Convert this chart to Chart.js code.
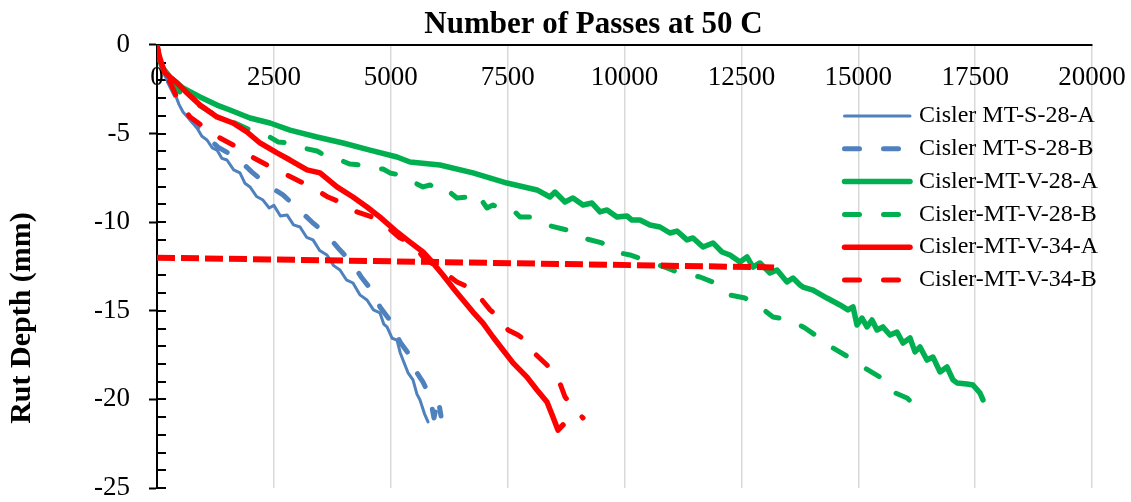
<!DOCTYPE html>
<html>
<head>
<meta charset="utf-8">
<script src="https://cdn.jsdelivr.net/npm/chart.js@4.4.1/dist/chart.umd.min.js"></script>
<style>
html,body{margin:0;padding:0;background:#fff;}
#wrap{width:1131px;height:502px;position:relative;}
</style>
</head>
<body>
<div id="wrap"><canvas id="c"></canvas></div>
<script>
// ---------- DATA ----------
const chartTitle = 'Number of Passes at 50 C';
const yAxisTitle = 'Rut Depth (mm)';
const seriesNames = ['Cisler MT-S-28-A','Cisler MT-S-28-B','Cisler-MT-V-28-A','Cisler-MT-V-28-B','Cisler-MT-V-34-A','Cisler-MT-V-34-B'];
const xTickLabels = [0,2500,5000,7500,10000,12500,15000,17500,20000];
const yTickLabels = [0,-5,-10,-15,-20,-25];

const passesS28A = [0,43,107,171,300,385,470,556,700,856,960,1070,1180,1283,1390,1497,1640,1775,1880,1989,2130,2267,2400,2500,2640,2781,2920,3059,3200,3337,3480,3636,3780,3914,4050,4192,4340,4492,4630,4770,4850,4920,5030,5134,5200,5262,5370,5476,5560,5626,5720,5797];
const rutS28A    = [0,-0.56,-1.13,-1.75,-2.40,-2.75,-3.35,-3.78,-4.20,-4.68,-5.15,-5.36,-5.80,-5.93,-6.40,-6.49,-7.05,-7.22,-7.80,-8.01,-8.55,-8.75,-9.20,-9.05,-9.65,-9.59,-10.15,-10.27,-10.85,-11.00,-11.60,-11.85,-12.45,-12.70,-13.25,-13.43,-14.10,-14.39,-14.95,-15.12,-15.75,-15.91,-16.55,-16.65,-17.35,-17.78,-18.50,-18.90,-19.70,-20.03,-20.80,-21.27];

const passesS28B = [0,43,171,385,706,1027,1305,1711,2032,2353,2695,2995,3315,3636,3914,4171,4385,4620,4770,5027,5198,5369,5519,5690,5840,5925,6011,6075];
const rutS28B    = [0,-0.73,-1.69,-2.82,-4.12,-5.08,-5.76,-6.38,-7.17,-7.90,-8.46,-9.20,-9.99,-10.72,-11.57,-12.30,-13.15,-13.94,-14.78,-15.69,-16.76,-17.38,-18.34,-19.02,-19.86,-21.05,-19.92,-20.94];

const passesV28A = [0,43,107,278,556,920,1283,1561,1989,2417,2845,3422,3979,4556,5134,5412,6053,6759,7487,8128,8406,8513,8727,8898,9112,9305,9476,9626,9839,10053,10160,10331,10545,10759,10973,11123,11337,11465,11679,11893,12085,12256,12470,12620,12748,12898,13112,13262,13476,13604,13754,13818,14032,14331,14609,14780,14888,14973,15080,15187,15294,15401,15529,15679,15829,15957,16107,16214,16321,16470,16599,16748,16898,17026,17112,17326,17454,17604,17668];
const rutV28A    = [0,-0.73,-1.24,-1.81,-2.43,-2.93,-3.39,-3.67,-4.12,-4.40,-4.80,-5.19,-5.53,-5.93,-6.32,-6.60,-6.77,-7.22,-7.79,-8.18,-8.58,-8.30,-8.86,-8.63,-9.03,-8.92,-9.42,-9.31,-9.71,-9.65,-9.88,-9.88,-10.16,-10.27,-10.61,-10.50,-11.00,-10.89,-11.40,-11.17,-11.68,-11.85,-12.25,-11.96,-12.53,-12.30,-12.87,-12.70,-13.37,-13.15,-13.54,-13.66,-13.83,-14.28,-14.67,-14.95,-14.78,-15.80,-15.41,-15.91,-15.52,-16.08,-15.91,-16.37,-16.20,-16.82,-16.53,-17.32,-17.04,-17.78,-17.61,-18.45,-18.17,-18.90,-19.07,-19.13,-19.19,-19.64,-20.03];

const passesV28B = [0,43,128,385,706,1070,1348,1668,1989,2374,2588,2845,3123,3422,3636,3914,4128,4342,4556,4834,4984,5198,5348,5476,5690,5840,6096,6203,6417,6631,6845,6909,7059,7187,7401,7615,7765,8021,8342,8770,9112,9518,9796,10117,10438,10909,11187,11615,11936,12256,12577,12898,13176,13540,13861,14139,14460,14823,15101,15465,15744,16043,16214];
const rutV28B    = [0,-0.73,-1.52,-2.43,-3.10,-3.67,-4.12,-4.40,-4.80,-5.14,-5.47,-5.53,-5.81,-5.98,-6.32,-6.49,-6.72,-6.77,-6.94,-7.00,-7.22,-7.34,-7.62,-7.73,-8.01,-7.90,-8.30,-8.18,-8.63,-8.58,-8.86,-8.63,-9.20,-9.03,-9.31,-9.31,-9.71,-9.71,-10.16,-10.44,-10.89,-11.17,-11.68,-11.85,-12.13,-12.58,-12.87,-13.09,-13.43,-14.11,-14.28,-14.78,-15.35,-15.52,-15.97,-16.48,-17.10,-17.66,-18.17,-18.74,-19.58,-19.92,-20.32];

const passesV34A = [0,43,107,171,428,642,920,1283,1626,1925,2203,2567,2845,3209,3487,3850,4192,4492,4770,5134,5412,5690,5904,6117,6331,6545,6759,6973,7187,7401,7615,7914,8128,8342,8470,8577,8684];
const rutV34A    = [0,-0.56,-1.13,-1.58,-2.14,-2.71,-3.39,-4.06,-4.40,-4.91,-5.53,-6.09,-6.49,-7.05,-7.22,-8.01,-8.58,-9.14,-9.71,-10.55,-11.12,-11.68,-12.30,-12.98,-13.71,-14.39,-15.07,-15.69,-16.48,-17.21,-17.94,-18.74,-19.47,-20.15,-20.99,-21.73,-21.44];

const passesV34B = [0,43,128,278,449,706,1027,1348,1711,2032,2353,2695,2995,3337,3658,4064,4278,4599,4920,5198,5455,5690,5990,6417,6695,6952,7123,7337,7508,7722,7872,8043,8342,8577,8727,8898,9112];
const rutV34B    = [0,-0.73,-1.58,-2.09,-3.10,-4.06,-4.68,-5.25,-5.76,-6.32,-6.77,-7.22,-7.62,-8.07,-8.58,-9.03,-9.42,-9.71,-10.27,-10.89,-11.17,-11.96,-12.53,-13.37,-13.71,-14.39,-14.95,-15.41,-16.08,-16.37,-16.65,-17.32,-18.06,-18.79,-19.86,-20.43,-21.05];

const thresholdPasses = [0,13200];
const thresholdRut    = [-12.0,-12.55];

// ---------- STYLE ----------
const SERIF = '"Liberation Serif", "Times New Roman", serif';
const BLUE = '#4F81BD', GREEN = '#00B050', RED = '#FF0000';
const DASH = [15, 24];

function pts(xs, ys){ return xs.map((x, i) => ({x: x, y: ys[i]})); }

function series(label, xs, ys, color, width, dash, order){
  return {
    label: label, data: pts(xs, ys), borderColor: color, backgroundColor: color,
    borderWidth: width, borderDash: dash, borderCapStyle: 'round', borderJoinStyle: 'round',
    showLine: true, pointRadius: 0, pointHoverRadius: 0, tension: 0, order: order
  };
}

const innerTicks = {
  id: 'innerTicks',
  beforeDatasetsDraw(chart){
    const ys = chart.scales.y, ctx = chart.ctx, x0 = chart.chartArea.left;
    ctx.save();
    ctx.strokeStyle = '#000'; ctx.lineWidth = 2;
    ys.ticks.forEach(t => {
      const py = Math.round(ys.getPixelForValue(t.value));
      ctx.beginPath(); ctx.moveTo(x0, py); ctx.lineTo(x0 + 9, py); ctx.stroke();
    });
    ctx.restore();
  }
};

const yTitlePlugin = {
  id: 'yTitlePlugin',
  afterDraw(chart){
    const ctx = chart.ctx;
    ctx.save();
    ctx.translate(22, 318);
    ctx.rotate(-Math.PI / 2);
    ctx.font = 'bold 30px ' + SERIF;
    ctx.fillStyle = '#000';
    ctx.textAlign = 'center';
    ctx.textBaseline = 'middle';
    ctx.fillText(yAxisTitle, 0, 0);
    ctx.restore();
  }
};

const sideLegend = {
  id: 'sideLegend',
  afterDraw(chart){
    const ctx = chart.ctx;
    ctx.save();
    let row = 0;
    chart.data.datasets.forEach(ds => {
      if (!ds.label) return;
      const y = 116 + row * 32.8;
      ctx.beginPath();
      ctx.strokeStyle = ds.borderColor;
      ctx.lineWidth = ds.borderWidth;
      ctx.setLineDash(ds.borderDash || []);
      ctx.lineCap = 'round';
      ctx.moveTo(844.5, y); ctx.lineTo(910, y); ctx.stroke();
      ctx.setLineDash([]);
      ctx.fillStyle = '#000';
      ctx.font = '24px ' + SERIF;
      ctx.textAlign = 'left';
      ctx.textBaseline = 'middle';
      ctx.fillText(ds.label, 919, y);
      row++;
    });
    ctx.restore();
  }
};

new Chart(document.getElementById('c'), {
  type: 'scatter',
  data: {
    datasets: [
      series(seriesNames[0], passesS28A, rutS28A, BLUE, 3, [], 7),
      series(seriesNames[1], passesS28B, rutS28B, BLUE, 5, DASH, 6),
      series(seriesNames[2], passesV28A, rutV28A, GREEN, 5.5, [], 5),
      series(seriesNames[3], passesV28B, rutV28B, GREEN, 5, DASH, 4),
      series(seriesNames[4], passesV34A, rutV34A, RED, 5.5, [], 3),
      series(seriesNames[5], passesV34B, rutV34B, RED, 5, DASH, 2),
      Object.assign(series('', thresholdPasses, thresholdRut, RED, 6, [18, 6], 1), {borderCapStyle: 'butt'})
    ]
  },
  options: {
    responsive: true,
    maintainAspectRatio: false,
    animation: false,
    devicePixelRatio: 1,
    layout: {autoPadding: false, padding: {left: 95, right: 39, top: 0, bottom: 14}},
    plugins: {
      legend: {display: false},
      tooltip: {enabled: false},
      title: {
        display: true, text: chartTitle, color: '#000',
        font: {family: SERIF, size: 31, weight: 'bold'},
        padding: {top: 6, bottom: 1.8}
      }
    },
    scales: {
      x: {
        type: 'linear', position: {y: 0}, min: 0, max: 20000,
        afterBuildTicks: s => { s.ticks = xTickLabels.map(v => ({value: v})); },
        afterFit: s => { s.paddingLeft = 0; s.paddingRight = 0; s.paddingTop = 0; s.paddingBottom = 0; },
        ticks: {font: {family: SERIF, size: 27}, color: '#000', padding: 17, maxRotation: 0, autoSkip: false,
                callback: v => String(v)},
        grid: {color: '#D9D9D9', lineWidth: 1.5, drawTicks: false},
        border: {display: true, color: '#000', width: 2}
      },
      y: {
        type: 'linear', position: 'left', min: -25, max: 0,
        afterFit: s => { s.width = 62; s.paddingTop = 0; s.paddingBottom = 0; s.paddingLeft = 0; s.paddingRight = 0; },
        ticks: {stepSize: 1, autoSkip: false, font: {family: SERIF, size: 27}, color: '#000', padding: 19,
                callback: v => yTickLabels.includes(v) ? String(v) : ''},
        grid: {drawOnChartArea: false, tickLength: 8, tickWidth: 2,
               tickColor: c => (c.tick && yTickLabels.includes(c.tick.value)) ? '#000' : 'rgba(0,0,0,0)'},
        border: {display: true, color: '#000', width: 2}
      }
    }
  },
  plugins: [innerTicks, yTitlePlugin, sideLegend]
});
</script>
</body>
</html>
